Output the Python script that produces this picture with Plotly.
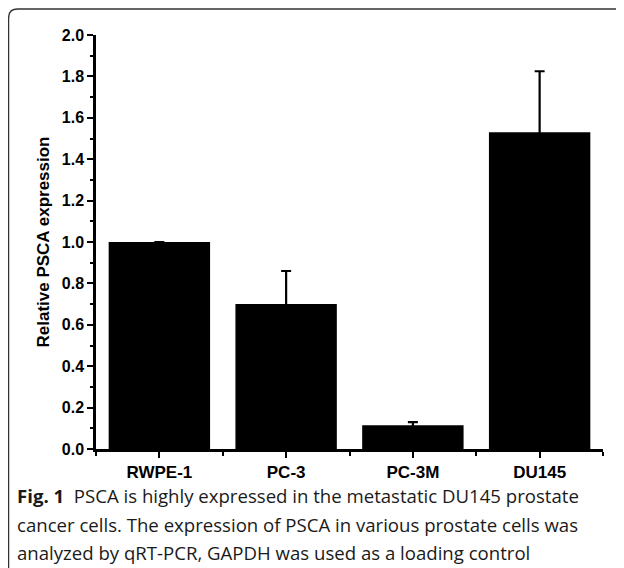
import plotly.graph_objects as go

categories = ["RWPE-1", "PC-3", "PC-3M", "DU145"]
values = [1.0, 0.70, 0.115, 1.53]
errors = [0.0, 0.16, 0.015, 0.295]
y_ticks = [0.0, 0.2, 0.4, 0.6, 0.8, 1.0, 1.2, 1.4, 1.6, 1.8, 2.0]
caption_lines = [
    "<b>Fig. 1</b>  PSCA is highly expressed in the metastatic DU145 prostate",
    "cancer cells. The expression of PSCA in various prostate cells was",
    "analyzed by qRT-PCR, GAPDH was used as a loading control",
]

# page is offset by the 8px default body margin
OFF = 8
PW, PH = 624, 568
W, H = PW - OFF, PH - OFF
PL, PR, PT, PB = 96, 603, 35, 449   # plot area in page pixels
L, R, T, B = PL - OFF, PW - PR, PT - OFF, PH - PB
pw, ph = PR - PL, PB - PT

def px(x):
    return (x - PL) / pw

def py(y):
    return (PB - y) / ph

xs = list(range(len(categories)))

fig = go.Figure()
fig.add_trace(go.Bar(
    x=xs, y=values, width=0.8,
    marker=dict(color="black", line=dict(width=0)),
    # symmetric bars: the lower half is hidden inside the black bar
    error_y=dict(type="data", array=errors, color="black",
                 thickness=2.2, width=5),
    showlegend=False,
))

tick_font = dict(family="Liberation Sans", size=16, color="black", weight="bold")

fig.update_layout(
    width=W, height=H,
    margin=dict(l=L, r=R, t=T, b=B),
    paper_bgcolor="white", plot_bgcolor="white",
    xaxis=dict(
        range=[-0.5, 3.5], tickvals=xs, ticktext=categories,
        showline=True, linecolor="black", linewidth=2.5,
        ticks="outside", ticklen=6, tickwidth=2, tickcolor="black",
        tickfont=dict(family="Liberation Sans", size=17, color="black", weight="bold"),
        showgrid=False, zeroline=False,
        minor=dict(tickvals=[-0.5, 0.5, 1.5, 2.5, 3.5], ticks="outside",
                   ticklen=4, tickwidth=2, tickcolor="black"),
    ),
    yaxis=dict(
        range=[0, 2.0], tickvals=y_ticks, tickformat=".1f",
        showline=True, linecolor="black", linewidth=2.5,
        ticks="outside", ticklen=6, tickwidth=2, tickcolor="black",
        tickfont=tick_font,
        showgrid=False, zeroline=False,
        minor=dict(dtick=0.1, ticks="outside", ticklen=3, tickwidth=2,
                   tickcolor="black"),
        title=dict(text="Relative PSCA expression",
                   font=dict(family="Liberation Sans", size=17, color="black", weight="bold"),
                   standoff=8),
    ),
    font=dict(family="Liberation Sans", color="black"),
)

# rounded border box (top-left corner visible)
r = 9
bx, by = 8.6, 9
path = (f"M {px(bx)},{py(620)} L {px(bx)},{py(by + r)} "
        f"Q {px(bx)},{py(by)} {px(bx + r)},{py(by)} L {px(660)},{py(by)}")
fig.add_shape(type="path", xref="paper", yref="paper", path=path,
              line=dict(color="#333333", width=1.3))

line_y = [495, 524, 552]
for txt, yy in zip(caption_lines, line_y):
    fig.add_annotation(text=txt, xref="paper", yref="paper",
                       x=px(15), y=py(yy), xanchor="left", yanchor="middle",
                       showarrow=False,
                       font=dict(family="Open Sans", size=18.6, color="#1a1a1a"))

fig.write_html("out.html")
